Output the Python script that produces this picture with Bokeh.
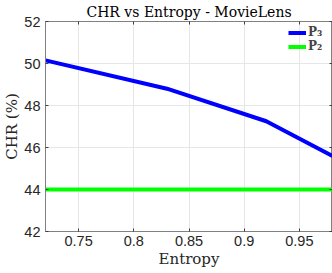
from bokeh.plotting import figure
from bokeh.models import LinearAxis, FixedTicker, Legend, LegendItem
from bokeh.embed import file_html
from bokeh.resources import INLINE

entropy = [0.72, 0.83, 0.92, 0.98]
p3_chr = [50.15, 48.8, 47.25, 45.6]
p2_entropy = [0.72, 0.98]
p2_chr = [44.0, 44.0]
x_ticks = [0.75, 0.8, 0.85, 0.9, 0.95]
y_ticks = [42, 44, 46, 48, 50, 52]

p = figure(width=332, height=273, x_range=(0.72, 0.98), y_range=(42, 52),
           output_backend="svg", toolbar_location=None,
           title="CHR vs Entropy - MovieLens",
           min_border_left=43, min_border_right=0, min_border_top=21, min_border_bottom=42)
p.title.align = "center"
p.title.text_font = "DejaVu Serif"
p.title.text_font_size = "14px"
p.title.text_font_style = "normal"
p.title.text_color = "#000000"
p.title.standoff = 3

l3 = p.line(entropy, p3_chr, line_color="#0000FF", line_width=4)
l2 = p.line(p2_entropy, p2_chr, line_color="#00FF00", line_width=4)

for ax in (p.xaxis[0], p.yaxis[0]):
    ax.axis_line_color = "#808080"
    ax.major_tick_line_color = "#404040"
    ax.major_tick_in = 3
    ax.major_tick_out = 0
    ax.minor_tick_line_color = None
    ax.major_label_text_font = "Liberation Sans"
    ax.major_label_text_font_size = "14.5px"
    ax.major_label_text_color = "#262626"
    ax.axis_label_text_font = "DejaVu Serif"
    ax.axis_label_text_font_size = "15px"
    ax.axis_label_text_font_style = "normal"
    ax.axis_label_text_color = "#262626"

p.xaxis[0].ticker = FixedTicker(ticks=x_ticks)
p.yaxis[0].ticker = FixedTicker(ticks=y_ticks)
p.xaxis[0].axis_label = "Entropy"
p.yaxis[0].axis_label = "CHR (%)"
p.xaxis[0].major_label_standoff = 4
p.yaxis[0].major_label_standoff = 5
p.xaxis[0].axis_label_standoff = 1
p.yaxis[0].axis_label_standoff = 0

for side in ("right", "above"):
    ax = LinearAxis(ticker=FixedTicker(ticks=y_ticks if side == "right" else x_ticks))
    ax.axis_line_color = "#808080"
    ax.major_tick_line_color = "#404040"
    ax.major_tick_in = 3
    ax.major_tick_out = 0
    ax.minor_tick_line_color = None
    ax.major_label_text_font_size = "1px"
    ax.major_label_text_color = None
    ax.major_label_standoff = 0
    p.add_layout(ax, side)

p.outline_line_color = "#808080"
p.xgrid.ticker = FixedTicker(ticks=x_ticks)
p.ygrid.ticker = FixedTicker(ticks=y_ticks)
p.grid.grid_line_color = "#e6e6e6"
p.grid.grid_line_width = 1

legend = Legend(items=[LegendItem(label="P\u2083", renderers=[l3]),
                       LegendItem(label="P\u2082", renderers=[l2])],
                location="top_right")
legend.border_line_color = None
legend.background_fill_alpha = 0
legend.label_text_font = "DejaVu Serif"
legend.label_text_font_style = "bold"
legend.label_text_font_size = "12px"
legend.label_height = 13
legend.glyph_width = 18
legend.glyph_height = 13
legend.label_standoff = 2
legend.spacing = 0
legend.padding = 4
legend.margin = 4
p.add_layout(legend)

open("out.html", "w").write(file_html(p, INLINE))
